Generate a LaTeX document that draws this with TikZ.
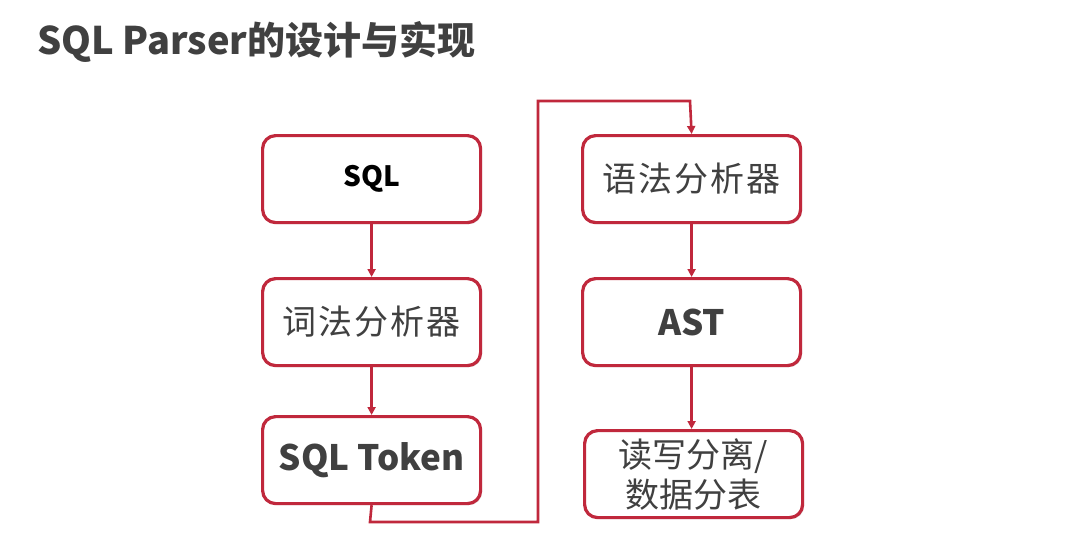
\documentclass[tikz,border=0pt]{standalone}
\usepackage{fontspec}
\setmainfont{Noto Sans CJK SC}
\usetikzlibrary{shadows,arrows.meta}
\definecolor{boxred}{HTML}{C0283C}
\definecolor{txtgray}{HTML}{404040}
\begin{document}
\begin{tikzpicture}[x=1pt,y=-1pt,
  flowbox/.style={draw=boxred, line width=3.2pt, rounded corners=13pt, fill=white,
    minimum width=218pt, minimum height=87pt, inner sep=0pt, anchor=north west,
    drop shadow={opacity=0.25, shadow xshift=1.5pt, shadow yshift=-1.5pt}, align=center},
  conn/.style={draw=boxred, line width=2.6pt},
  arr/.style={conn, -{Triangle[length=8pt,width=8pt]}},
  cjk/.style={font=\fontsize{34}{40}\selectfont, text=txtgray},
  lat/.style={font=\fontsize{35}{40}\selectfont\bfseries, text=txtgray}]
\useasboundingbox (0,0) rectangle (1079,536);
\fill[white] (0,0) rectangle (1079,536);
\node[anchor=west, text=txtgray, font=\fontsize{38}{44}\selectfont\bfseries, inner sep=0pt] (title) at (37,42) {SQL Parser的设计与实现};
% left column
\node[flowbox, font=\fontsize{28}{32}\selectfont\bfseries, text=black] (sql) at (261,134) {SQL};
\node[flowbox, cjk] (lex) at (261,277) {词\kern2pt 法\kern2pt 分\kern2pt 析\kern2pt 器};
\node[flowbox, lat] (tok) at (261,415) {SQL Token};
% right column
\node[flowbox, cjk] (syn) at (581,134) {语\kern2pt 法\kern2pt 分\kern2pt 析\kern2pt 器};
\node[flowbox, lat] (ast) at (581,277) {AST};
\node[flowbox, cjk] (rw) at (583,429) {读写分离/\\数据分表};
% connectors
\draw[arr] (sql.south) -- (lex.north);
\draw[arr] (lex.south) -- (tok.north);
\coordinate (c1) at (370,522);
\coordinate (c2) at (538,522);
\coordinate (c3) at (538,101);
\coordinate (c4) at (690,101);
\draw[arr] (tok.south) -- (c1) -- (c2) -- (c3) -- (c4) -- (syn.north);
\draw[arr] (syn.south) -- (ast.north);
\draw[arr] (ast.south) -- (ast.south |- rw.north);
\end{tikzpicture}
\end{document}
